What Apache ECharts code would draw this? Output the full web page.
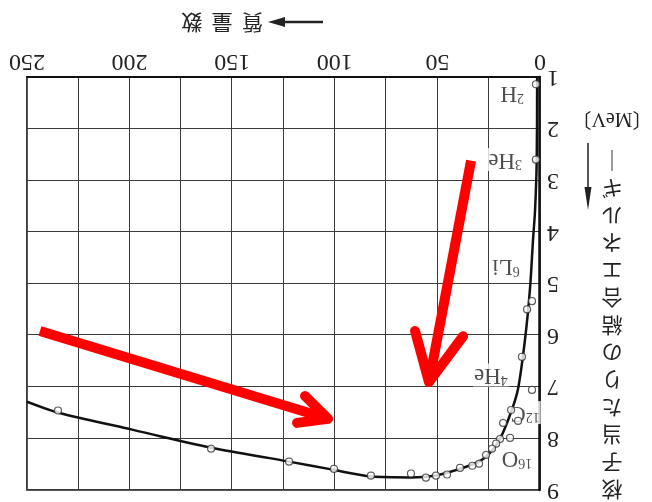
<!DOCTYPE html>
<html><head><meta charset="utf-8">
<script src="https://cdn.jsdelivr.net/npm/echarts@6/dist/echarts.min.js"></script>
<style>
html,body{margin:0;padding:0;background:#fff;overflow:hidden}
#c{width:652px;height:502px;transform:rotate(180deg);transform-origin:50% 50%;}
</style>
</head><body><div id="c"></div>
<script>
// Mass number axis & binding energy axis
const massMin = 0, massMax = 250, massStep = 25, massLabelStep = 50;
const energyMin = 1, energyMax = 9, energyStep = 1;

// Measured nuclides (hollow circles)
const pointA = [2, 2, 3.9, 6.3, 8.8, 3.9, 14.1, 10.7, 18, 14.6, 19.5, 21.4, 23.4, 26.3, 29.7, 33, 39, 45.3, 50.7, 55.6, 62.9, 82.4, 100.4, 122.3, 160.3, 234.9];
const pointE = [1.14, 2.6, 5.34, 5.5, 6.42, 7.06, 7.45, 7.66, 7.7, 7.99, 8.01, 8.1, 8.2, 8.32, 8.49, 8.53, 8.57, 8.7, 8.72, 8.76, 8.68, 8.72, 8.59, 8.45, 8.2, 7.46];

// Curve
const curveA = [1.4, 1.6, 2.4, 3.4, 4.9, 7.3, 10.7, 14.1, 19.5, 24.4, 29.7, 39, 50.7, 62.9, 82.4, 100.4, 122.3, 160.3, 201, 235, 250];
const curveE = [1.0, 2.6, 3.57, 4.15, 5.11, 6.08, 7.04, 7.49, 8.01, 8.28, 8.45, 8.59, 8.72, 8.76, 8.74, 8.61, 8.45, 8.18, 7.81, 7.5, 7.29];

// Nuclide labels: mass number, element symbol, position
const nuclideMass = ['2', '3', '6', '4', '12', '16'];
const nuclideSym = ['H', 'He', 'Li', 'He', 'C', 'O'];
const nuclideA = [13.6, 17, 16.6, 23.9, 7.3, 11.2];
const nuclideE = [1.31, 2.6, 4.67, 6.77, 7.5, 8.39];

// Red annotation arrows (data coordinates)
const arrow1Shaft = [[243.7, 5.92], [103.3, 7.62]];
const arrow1Head = [[114.5, 7.18], [103.3, 7.62], [118.4, 7.70]];
const arrow2Shaft = [[33.6, 2.62], [54.1, 6.91]];
const arrow2Head = [[60.9, 5.92], [54.1, 6.91], [37.5, 6.02]];

const xName = '質  量  数';
const yNameChars = ['核','子','当','た','り','の','結','合','エ','ネ','ル','ギ','｜'];
const yUnit = '〔MeV〕';

const serif = '"Liberation Serif","DejaVu Serif","Noto Sans CJK JP",serif';
const cjk = '"Noto Sans CJK JP",sans-serif';
const gridColor = '#3a3a3a';

const chart = echarts.init(document.getElementById('c'), null, {renderer: 'canvas'});

function arrowSeries(pts, cap) {
  return {
    type: 'line', data: pts, symbol: 'none', silent: true, z: 10,
    lineStyle: {color: '#ff0000', width: 10, cap: cap, join: 'round'},
    animation: false
  };
}

chart.setOption({
  backgroundColor: '#ffffff',
  animation: false,
  grid: {left: 112, right: 27, top: 11, bottom: 77, show: true, borderColor: '#222', borderWidth: 1.5},
  xAxis: {
    type: 'value', min: massMin, max: massMax, interval: massStep, position: 'bottom',
    axisLine: {show: true, onZero: false, lineStyle: {color: '#111', width: 2}},
    axisTick: {show: false},
    axisLabel: {
      margin: 4, fontSize: 24, fontFamily: serif, color: '#222',
      formatter: v => (v % massLabelStep === 0 ? String(v) : '')
    },
    splitLine: {show: true, lineStyle: {color: gridColor, width: 1}}
  },
  yAxis: {
    type: 'value', min: energyMin, max: energyMax, interval: energyStep, position: 'left',
    axisLine: {show: true, onZero: false, lineStyle: {color: '#111', width: 2.5}},
    axisTick: {show: false},
    axisLabel: {margin: 7, fontSize: 24, fontFamily: serif, color: '#222'},
    splitLine: {show: true, lineStyle: {color: gridColor, width: 1}}
  },
  series: [
    {
      type: 'scatter', z: 1, symbolSize: 0, silent: true,
      data: nuclideSym.map((s, i) => ({name: s, mass: nuclideMass[i], value: [nuclideA[i], nuclideE[i]]})),
      label: {
        show: true, position: 'inside',
        formatter: p => '{s|' + nuclideMass[p.dataIndex] + '}{e|' + p.name + '}',
        backgroundColor: '#fff', padding: [0, 1],
        rich: {
          s: {fontSize: 14, fontFamily: serif, color: '#222', verticalAlign: 'top'},
          e: {fontSize: 23, fontFamily: serif, color: '#222'}
        }
      }
    },
    {
      type: 'line', z: 3, data: curveA.map((a, i) => [a, curveE[i]]),
      smooth: 0.3, showSymbol: false, silent: true,
      lineStyle: {color: '#111', width: 2.5}
    },
    {
      type: 'scatter', z: 4, data: pointA.map((a, i) => [a, pointE[i]]),
      symbol: 'circle', symbolSize: 7, silent: true,
      itemStyle: {color: '#fff', borderColor: '#333', borderWidth: 1.2}
    },
    arrowSeries(arrow1Shaft, 'butt'),
    arrowSeries(arrow1Head, 'round'),
    arrowSeries(arrow2Shaft, 'butt'),
    arrowSeries(arrow2Head, 'round')
  ],
  graphic: [
    {type: 'line', shape: {x1: 329, y1: 480, x2: 372, y2: 480}, style: {stroke: '#222', lineWidth: 2.5}},
    {type: 'polygon', shape: {points: [[384, 480], [367, 475], [367, 485]]}, style: {fill: '#222'}},
    {type: 'text', x: 389, y: 479, style: {text: xName, fontSize: 21, fontFamily: cjk, fill: '#222',
      align: 'left', verticalAlign: 'middle', textAlign: 'left', textVerticalAlign: 'middle'}},
    {type: 'text', x: 40, y: -1.7, style: {text: yNameChars.join('\n'), fontSize: 21, fontFamily: cjk, fill: '#222',
      lineHeight: 27.4, align: 'center', verticalAlign: 'top', textAlign: 'center', textVerticalAlign: 'top'}},
    {type: 'line', shape: {x1: 64, y1: 359, x2: 64, y2: 305}, style: {stroke: '#222', lineWidth: 1.5}},
    {type: 'polygon', shape: {points: [[64, 292], [60.5, 315], [67.5, 315]]}, style: {fill: '#222'}},
    {type: 'text', x: 40, y: 384, style: {text: yUnit, fontSize: 20, fontFamily: serif, fill: '#222',
      align: 'center', verticalAlign: 'middle', textAlign: 'center', textVerticalAlign: 'middle'}}
  ]
});
</script>
</body></html>
